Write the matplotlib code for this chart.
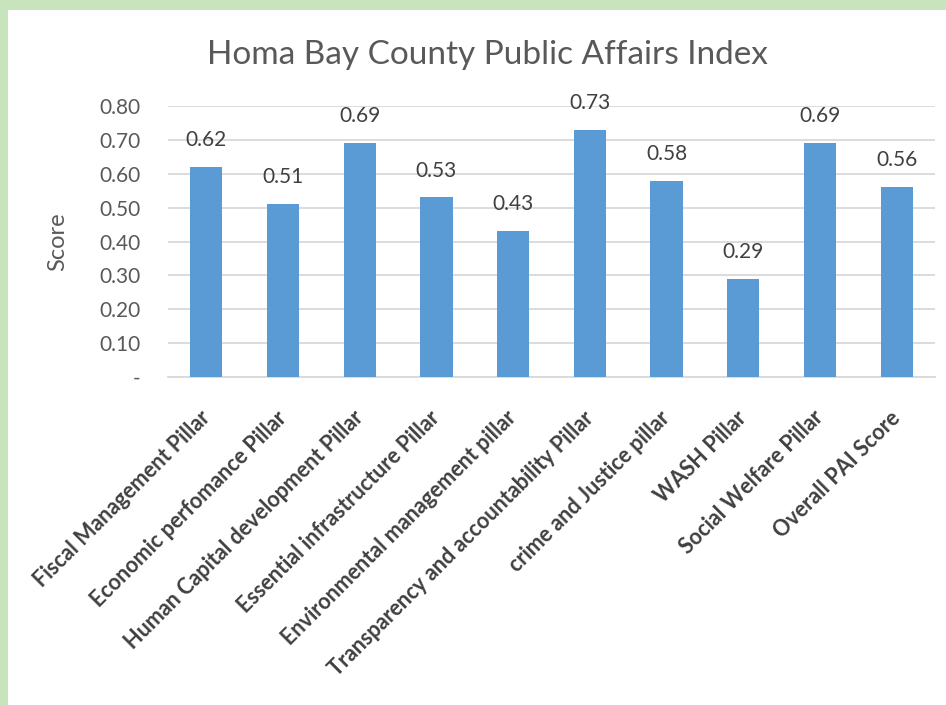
import matplotlib
matplotlib.use('Agg')
import matplotlib.pyplot as plt
from matplotlib.patches import Rectangle
from matplotlib.ticker import FuncFormatter

categories = ['Fiscal Management Pillar', 'Economic perfomance Pillar',
              'Human Capital development Pillar', 'Essential infrastructure Pillar',
              'Environmental management pillar', 'Transparency and accountability Pillar',
              'crime and Justice pillar', 'WASH Pillar', 'Social Welfare Pillar',
              'Overall PAI Score']
scores = [0.62, 0.51, 0.69, 0.53, 0.43, 0.73, 0.58, 0.29, 0.69, 0.56]
yticks = [0, 0.1, 0.2, 0.3, 0.4, 0.5, 0.6, 0.7, 0.8]

plt.rcParams['font.family'] = ['Lato', 'DejaVu Sans']

fig = plt.figure(figsize=(9.46, 7.05), dpi=100)
fig.patch.set_facecolor('#c8e4bc')
# white chart panel inside the green frame
fig.patches.append(Rectangle((8 / 946, 0), 1, 1 - 10 / 705, transform=fig.transFigure,
                             facecolor='white', edgecolor='none', zorder=-5))

ax = fig.add_axes([168 / 946, 1 - 377 / 705, (935 - 168) / 946, (377 - 106) / 705])
ax.set_facecolor('none')
x = range(len(categories))
bars = ax.bar(x, scores, width=0.42, color='#5b9bd5', zorder=3)
for b, v in zip(bars, scores):
    ax.text(b.get_x() + b.get_width() / 2, v + 0.05, f'{v:.2f}', ha='center', va='bottom',
            fontsize=15, color='#404040')

ax.set_xlim(-0.5, len(categories) - 0.5)
ax.set_ylim(0, 0.8)
ax.set_yticks(yticks)
ax.yaxis.set_major_formatter(FuncFormatter(lambda v, p: '-' if v == 0 else f'{v:.2f}'))
ax.grid(True, axis='y', color='#d9d9d9', linewidth=1.3, zorder=0)
for s in ['top', 'right', 'left']:
    ax.spines[s].set_visible(False)
ax.spines['bottom'].set_color('#d9d9d9')
ax.spines['bottom'].set_linewidth(1.3)
ax.tick_params(axis='both', length=0, colors='#595959', labelsize=15)
ax.tick_params(axis='y', pad=20)
ax.set_xticks(list(x))
ax.set_xticklabels(categories, rotation=45, ha='right', va='center', rotation_mode='anchor',
                   fontsize=15.5, fontweight='bold', color='#404040')
ax.tick_params(axis='x', pad=27)
ax.set_ylabel('Score', fontsize=17, color='#595959', labelpad=22)

fig.text(487 / 946, 1 - 64 / 705, 'Homa Bay County Public Affairs Index', ha='center',
         va='baseline', fontsize=24, color='#595959')

fig.savefig('out.png', dpi=100, facecolor=fig.get_facecolor())
